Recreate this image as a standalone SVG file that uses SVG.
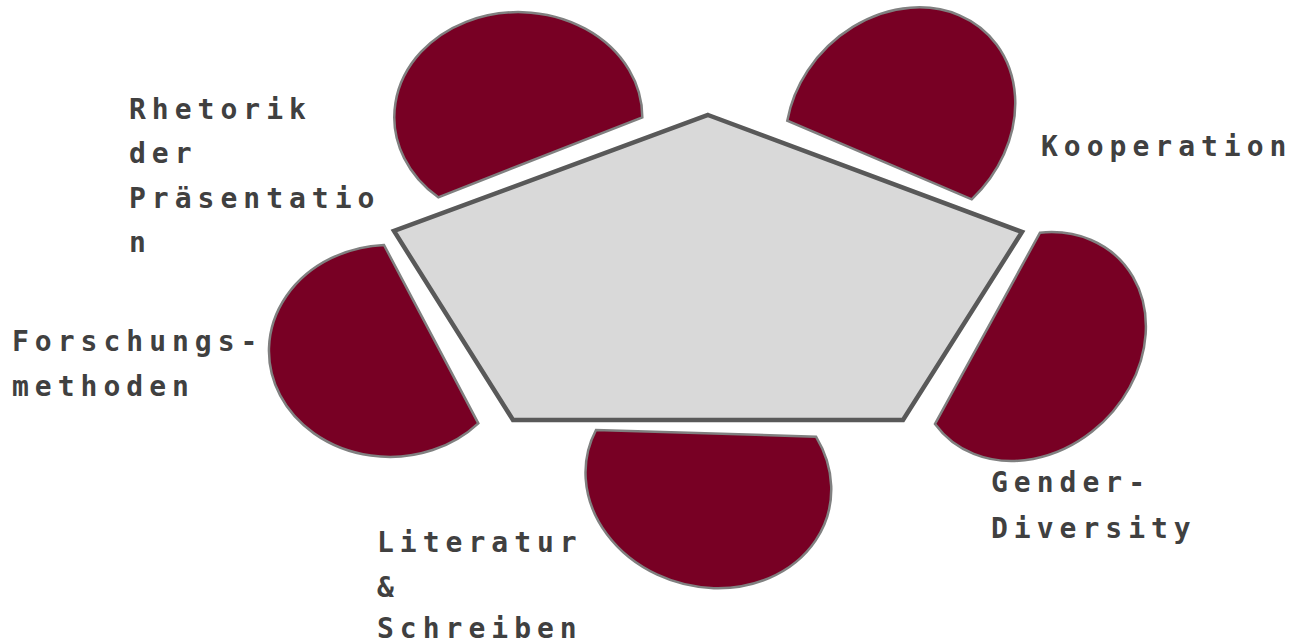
<svg xmlns="http://www.w3.org/2000/svg" width="1293" height="644" viewBox="0 0 1293 644">
<style>
.seg{fill:#780024;stroke:#808080;stroke-width:2.5;stroke-linejoin:miter}
.core{fill:#d9d9d9;stroke:#595959;stroke-width:4.5;stroke-linejoin:miter}
.lbl{font-family:"DejaVu Sans Mono","Liberation Mono",monospace;font-size:28px;font-weight:bold;letter-spacing:6px;fill:#404040}
</style>
<rect width="1293" height="644" fill="#ffffff"/>
<g id="center">
<polygon class="core" points="708,115 1022,232 903,420 513,420 394,231"/>
</g>
<g id="rhetorik">
<path class="seg" d="M642.3,117.3 A124,105 0 1 0 438.3,197.3 Z"/>
<text class="lbl" x="129" y="119">Rhetorik</text>
<text class="lbl" x="129" y="163">der</text>
<text class="lbl" x="129" y="208">Präsentatio</text>
<text class="lbl" x="129" y="252">n</text>
</g>
<g id="kooperation">
<path class="seg" d="M971.7,199.3 A124,105 -45 1 0 787.3,120.7 Z"/>
<text class="lbl" x="1041" y="156">Kooperation</text>
</g>
<g id="gender">
<path class="seg" d="M935,424 A124,104 -45 1 0 1040,232.7 Z"/>
<text class="lbl" x="991" y="492">Gender-</text>
<text class="lbl" x="991" y="538">Diversity</text>
</g>
<g id="literatur">
<path class="seg" d="M596,430 A124,106 15 1 0 816,436.7 Z"/>
<text class="lbl" x="377" y="552">Literatur</text>
<text class="lbl" x="377" y="597">&amp;</text>
<text class="lbl" x="377" y="638">Schreiben</text>
</g>
<g id="forschung">
<path class="seg" d="M384,245 A121,106 0 1 0 478.3,423.3 Z"/>
<text class="lbl" x="12" y="351">Forschungs-</text>
<text class="lbl" x="12" y="396">methoden</text>
</g>
</svg>
